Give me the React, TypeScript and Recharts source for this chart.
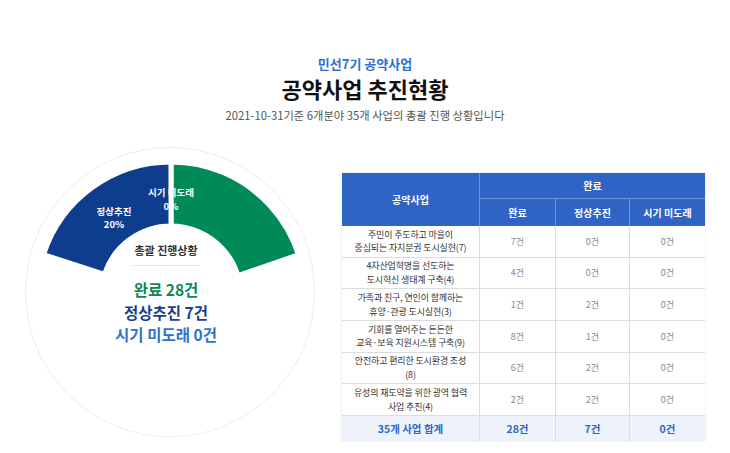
import React from 'react';
import { PieChart, Pie, Cell } from 'recharts';

const FONT = "'Noto Sans CJK KR', 'Noto Sans', sans-serif";

const statusNames = ['완료', '정상추진', '시기 미도래'];
const statusColors = ['#008a58', '#0f3d8d', '#2c74cf'];
const textColors = ['#0a8a57', '#1b3f8f', '#2c74cf'];

const projects = [
  '주민이 주도하고 마을이\n중심되는 자치분권 도시실현(7)',
  '4차산업혁명을 선도하는\n도시혁신 생태계 구축(4)',
  '가족과 친구, 연인이 함께하는\n휴양·관광 도시실현(3)',
  '기회를 열어주는 든든한\n교육·보육 지원시스템 구축(9)',
  '안전하고 편리한 도시환경 조성\n(8)',
  '유성의 재도약을 위한 광역 협력\n사업 추진(4)',
];
const doneCounts = [7, 4, 1, 8, 6, 2];
const ongoingCounts = [0, 0, 2, 1, 2, 2];
const notYetCounts = [0, 0, 0, 0, 0, 0];

const sum = (a: number[]) => a.reduce((s, v) => s + v, 0);
const totals = [sum(doneCounts), sum(ongoingCounts), sum(notYetCounts)];
const pieData = statusNames.map((name, i) => ({ name, value: totals[i] }));
const coverData = [{ name: 'cover', value: 1 }];

const RADIAN = Math.PI / 180;

const renderLabel = (p: any) => {
  if (p.index === 0) return null;
  const r = 97;
  const x = p.cx + r * Math.cos(-p.midAngle * RADIAN);
  const y = p.cy + r * Math.sin(-p.midAngle * RADIAN);
  const common = { fill: '#fff', textAnchor: 'middle' as const, fontSize: 9.5, fontWeight: 700, fontFamily: FONT };
  return (
    <g>
      <text x={x} y={y - 3} {...common}>{p.name}</text>
      <text x={x} y={y + 10.5} {...common}>{Math.round(p.percent * 100)}%</text>
    </g>
  );
};

const HEAD = '#2f64c4';
const line = '1px solid #dcdcdc';
const hLine = '1px solid rgba(255,255,255,0.3)';

function Table() {
  const cell: React.CSSProperties = {
    display: 'flex', alignItems: 'center', justifyContent: 'center', textAlign: 'center',
    boxSizing: 'border-box',
  };
  const head: React.CSSProperties = { ...cell, background: HEAD, color: '#fff', fontWeight: 700, fontSize: 10 };
  const body: React.CSSProperties = { ...cell, borderBottom: line, fontSize: 9, color: '#888' };
  const foot: React.CSSProperties = { ...cell, background: '#eef3fb', color: '#2f67c8', fontWeight: 700, fontSize: 10.5 };
  return (
    <div
      style={{
        position: 'absolute', left: 342, top: 173, width: 363, display: 'grid',
        gridTemplateColumns: '138px 76px 74px 75px',
        gridTemplateRows: '26px 27px repeat(6, 31.67px) 25px',
        fontFamily: FONT, background: '#fff',
        boxShadow: '0 0 2px rgba(0,0,0,0.15)',
      }}
    >
      <div style={{ ...head, gridRow: '1 / 3', gridColumn: '1', borderRight: hLine }}>공약사업</div>
      <div style={{ ...head, gridRow: '1', gridColumn: '2 / 5', borderBottom: hLine }}>{statusNames[0]}</div>
      {statusNames.map((n, i) => (
        <div key={n} style={{ ...head, gridRow: '2', gridColumn: String(i + 2), borderRight: i < 2 ? hLine : undefined }}>{n}</div>
      ))}
      {projects.map((p, r) => (
        <React.Fragment key={p}>
          <div style={{ ...body, color: '#333', whiteSpace: 'pre-line', lineHeight: '13.5px', letterSpacing: -0.15, borderRight: line }}>{p}</div>
          <div style={{ ...body, borderRight: line }}>{doneCounts[r]}건</div>
          <div style={{ ...body, borderRight: line }}>{ongoingCounts[r]}건</div>
          <div style={body}>{notYetCounts[r]}건</div>
        </React.Fragment>
      ))}
      <div style={{ ...foot, borderRight: line }}>{sum(totals)}개 사업 합계</div>
      {totals.map((t, i) => (
        <div key={i} style={{ ...foot, borderRight: i < 2 ? line : undefined }}>{t}건</div>
      ))}
    </div>
  );
}

export default function App() {
  return (
    <div style={{ position: 'absolute', left: 0, top: 0, width: 730, height: 453, background: '#fff', fontFamily: FONT, overflow: 'hidden' }}>
      <div style={{ position: 'absolute', left: 0, width: 730, top: 54, textAlign: 'center', fontSize: 13, fontWeight: 700, color: '#2d6fd6' }}>
        민선7기 공약사업
      </div>
      <div style={{ position: 'absolute', left: 0, width: 730, top: 72, textAlign: 'center', fontSize: 22, fontWeight: 700, color: '#111' }}>
        공약사업 추진현황
      </div>
      <div style={{ position: 'absolute', left: 0, width: 730, top: 107, textAlign: 'center', fontSize: 11.3, color: '#555' }}>
        2021-10-31기준 6개분야 35개 사업의 총괄 진행 상황입니다
      </div>

      <div style={{ position: 'absolute', left: 170 - 145, top: 292 - 145, width: 290, height: 290, borderRadius: '50%', border: '1.5px solid #ececec', boxSizing: 'border-box' }} />

      <div style={{ position: 'absolute', left: 0, top: 0 }}>
        <PieChart width={340} height={453}>
          <Pie
            data={pieData}
            dataKey="value"
            cx={166}
            cy={291}
            startAngle={90}
            endAngle={-270}
            innerRadius={70}
            outerRadius={134}
            stroke="#fff"
            strokeWidth={5}
            label={renderLabel}
            labelLine={false}
            isAnimationActive={false}
          >
            {pieData.map((d, i) => <Cell key={d.name} fill={statusColors[i]} />)}
          </Pie>
          <Pie
            data={coverData}
            dataKey="value"
            cx={166}
            cy={291}
            startAngle={19}
            endAngle={-198}
            innerRadius={0}
            outerRadius={140}
            fill="#fff"
            stroke="none"
            isAnimationActive={false}
          />
        </PieChart>
      </div>

      <div style={{ position: 'absolute', left: 116, width: 100, top: 242, textAlign: 'center', fontSize: 11, fontWeight: 700, color: '#333' }}>
        총괄 진행상황
      </div>
      <div style={{ position: 'absolute', left: 133, top: 265, width: 67, height: 1, background: '#e2e2e2' }} />
      {statusNames.map((n, i) => (
        <div key={n} style={{ position: 'absolute', left: 66, width: 200, top: 278 + i * 22.5, textAlign: 'center', fontSize: 15.5, fontWeight: 700, color: textColors[i], lineHeight: '22px' }}>
          {n} {totals[i]}건
        </div>
      ))}

      <Table />
    </div>
  );
}
